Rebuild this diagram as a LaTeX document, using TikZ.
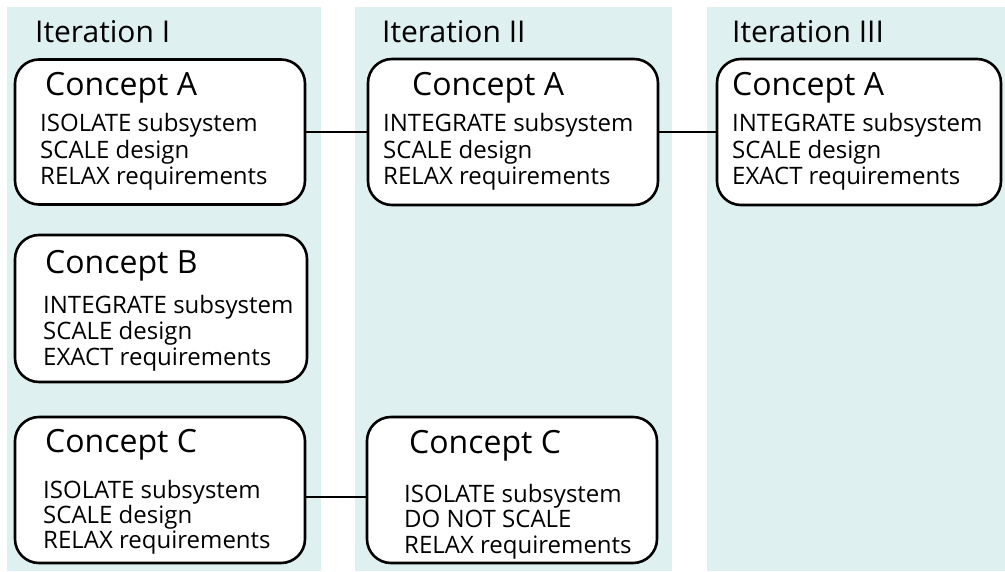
\documentclass[tikz,border=0pt]{standalone}
\usepackage{fontspec}
\setmainfont{Open Sans}
\begin{document}
\begin{tikzpicture}[x=1pt,y=-1pt,
  column/.style={fill=colbg,draw=none},
  concept/.style={draw=black,line width=2.6pt,rounded corners=24pt,fill=white,inner sep=0pt},
  heading/.style={anchor=base west,inner sep=0pt,font=\fontsize{30}{33}\selectfont},
  ctitle/.style={anchor=base west,inner sep=0pt,font=\fontsize{32}{36}\selectfont},
  cline/.style={anchor=base west,inner sep=0pt,font=\fontsize{24}{26}\selectfont},
  link/.style={line width=2.6pt}]
\definecolor{colbg}{RGB}{223,240,240}
\useasboundingbox (0,0) rectangle (1005,571);
\fill[white] (0,0) rectangle (1005,571);

% iteration columns
\path[column] (7,7) rectangle (321,571);
\path[column] (355,7) rectangle (672,571);
\path[column] (707,7) rectangle (1005,571);

\node[heading] (h1) at (35,42) {Iteration I};
\node[heading] (h2) at (382,42) {Iteration II};
\node[heading] (h3) at (732,42) {Iteration III};

% concept boxes
\node[concept,minimum width=290pt,minimum height=145pt] (a1) at (160,132) {};
\node[concept,minimum width=290pt,minimum height=146pt] (a2) at (513,132) {};
\node[concept,minimum width=284pt,minimum height=146pt] (a3) at (859,132) {};
\node[concept,minimum width=292pt,minimum height=147pt] (b1) at (161,308.5) {};
\node[concept,minimum width=290pt,minimum height=146pt] (c1) at (160,490) {};
\node[concept,minimum width=290pt,minimum height=146pt] (c2) at (512,490) {};

% links between iterations
\draw[link] (a1.east) -- (a2.west);
\draw[link] (a2.east) -- (a3.west);
\draw[link] ([yshift=-7pt]c1.east) -- ([yshift=-7pt]c2.west);

% Iteration I, concept A
\node[ctitle] (a1t) at (45,95) {Concept A};
\node[cline] (a1l1) at (40,131) {ISOLATE subsystem};
\node[cline] (a1l2) at (40,158) {SCALE design};
\node[cline] (a1l3) at (40,184) {RELAX requirements};

% Iteration II, concept A
\node[ctitle] (a2t) at (412,95) {Concept A};
\node[cline] (a2l1) at (383,131) {INTEGRATE subsystem};
\node[cline] (a2l2) at (383,158) {SCALE design};
\node[cline] (a2l3) at (383,184) {RELAX requirements};

% Iteration III, concept A
\node[ctitle] (a3t) at (732,95) {Concept A};
\node[cline] (a3l1) at (732,131) {INTEGRATE subsystem};
\node[cline] (a3l2) at (732,158) {SCALE design};
\node[cline] (a3l3) at (732,184) {EXACT requirements};

% Iteration I, concept B
\node[ctitle] (b1t) at (45,273) {Concept B};
\node[cline] (b1l1) at (43,313) {INTEGRATE subsystem};
\node[cline] (b1l2) at (43,339) {SCALE design};
\node[cline] (b1l3) at (43,365) {EXACT requirements};

% Iteration I, concept C
\node[ctitle] (c1t) at (45,452) {Concept C};
\node[cline] (c1l1) at (43,498) {ISOLATE subsystem};
\node[cline] (c1l2) at (43,523) {SCALE design};
\node[cline] (c1l3) at (43,548) {RELAX requirements};

% Iteration II, concept C
\node[ctitle] (c2t) at (409,453) {Concept C};
\node[cline] (c2l1) at (404,502) {ISOLATE subsystem};
\node[cline] (c2l2) at (404,527) {DO NOT SCALE};
\node[cline] (c2l3) at (404,553) {RELAX requirements};
\end{tikzpicture}
\end{document}
